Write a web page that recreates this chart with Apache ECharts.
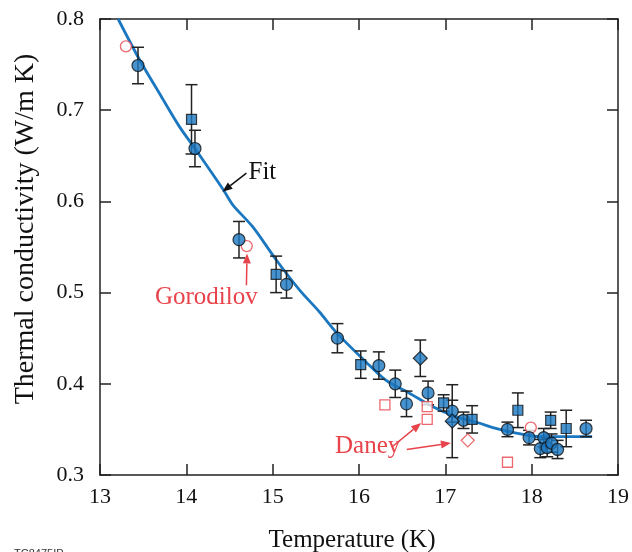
<!DOCTYPE html>
<html>
<head>
<meta charset="utf-8">
<script src="https://cdn.jsdelivr.net/npm/echarts@6/dist/echarts.min.js"></script>
<style>html,body{margin:0;padding:0;background:#fff;}#c{width:632px;height:552px;}</style>
</head>
<body>
<div id="c"></div>
<script>
// [temperature K, conductivity W/mK, error]
var circles = [
  [13.44,0.749,0.020],[14.10,0.658,0.020],[14.61,0.558,0.020],[15.16,0.509,0.015],
  [15.75,0.450,0.016],[16.23,0.420,0.015],[16.42,0.400,0.015],[16.55,0.378,0.014],
  [16.80,0.390,0.013],[17.08,0.370,0.012],[17.21,0.360,0.009],[17.72,0.350,0.008],
  [17.97,0.341,0.008],[18.10,0.329,0.010],[18.14,0.341,0.010],[18.18,0.330,0.010],
  [18.23,0.335,0.010],[18.30,0.328,0.010],[18.63,0.351,0.009]
];
var squares = [
  [14.06,0.690,0.038],[15.04,0.520,0.020],[16.02,0.421,0.015],[16.98,0.379,0.009],
  [17.31,0.361,0.015],[17.84,0.371,0.019],[18.22,0.360,0.009],[18.40,0.351,0.020]
];
var diamonds = [
  [16.71,0.428,0.020],[17.08,0.359,0.040]
];
var gorodilov = [[13.30,0.770],[14.70,0.551],[17.99,0.352]];
var daneySquares = [[16.30,0.377],[16.79,0.375],[16.79,0.361],[17.72,0.314]];
var daneyDiamonds = [[17.26,0.338]];
var fit = [
  [13.21,0.800],[13.46,0.755],[13.71,0.715],[13.92,0.682],[14.10,0.658],[14.43,0.6125],
  [14.54,0.596],[14.77,0.572],[15.04,0.536],[15.31,0.503],[15.54,0.479],[15.75,0.455],
  [16.08,0.424],[16.31,0.404],[16.58,0.390],[16.85,0.375],[17.12,0.364],[17.39,0.357],
  [17.55,0.352],[17.82,0.346],[18.09,0.342],[18.40,0.342],[18.70,0.342]
];
var xTicks = [13,14,15,16,17,18,19];
var yTicks = [0.3,0.4,0.5,0.6,0.7,0.8];
// annotations: text, [x,y] text position, arrows [[tail],[tip]]
var annFit = {text:'Fit', pos:[14.72,0.632], arrows:[[[14.696,0.631],[14.418,0.6106]]]};
var annGoro = {text:'Gorodilov', pos:[14.231,0.495], arrows:[[[14.696,0.508],[14.703,0.543]]]};
var annDaney = {text:'Daney', pos:[16.10,0.331], arrows:[[[16.384,0.331],[16.72,0.357]],[[16.553,0.328],[17.065,0.335]]]};

var BLUE = '#1a77c0', RED = '#e8434b', FONT = 'Liberation Serif';
var allErr = circles.concat(squares).concat(diamonds);

function errItem(params, api) {
  var x = api.value(0), y = api.value(1), e = api.value(2);
  var top = api.coord([x, y + e]), bot = api.coord([x, y - e]);
  var w = 6;
  var st = {stroke:'#222', lineWidth:1.5};
  return {type:'group', children:[
    {type:'line', shape:{x1:top[0],y1:top[1],x2:bot[0],y2:bot[1]}, style:st},
    {type:'line', shape:{x1:top[0]-w,y1:top[1],x2:top[0]+w,y2:top[1]}, style:st},
    {type:'line', shape:{x1:bot[0]-w,y1:bot[1],x2:bot[0]+w,y2:bot[1]}, style:st}
  ]};
}

var chart = echarts.init(document.getElementById('c'));
chart.setOption({
  animation:false,
  backgroundColor:'#fff',
  grid:{left:100, top:19, right:13, bottom:77},
  xAxis:[
    {type:'value', min:13, max:19, interval:1, position:'bottom',
     axisLine:{lineStyle:{color:'#222', width:1.5}},
     axisTick:{inside:true, length:11, lineStyle:{color:'#222', width:1.5}},
     axisLabel:{color:'#111', fontFamily:FONT, fontSize:22, margin:11,
       formatter:function(v){return xTicks.indexOf(v)>=0? String(v):'';}},
     splitLine:{show:false}},
    {type:'value', min:13, max:19, interval:1, position:'top',
     axisLine:{lineStyle:{color:'#222', width:1.5}},
     axisTick:{inside:true, length:11, lineStyle:{color:'#222', width:1.5}},
     axisLabel:{show:false}, splitLine:{show:false}}
  ],
  yAxis:[
    {type:'value', min:0.3, max:0.8, interval:0.1, position:'left',
     axisLine:{show:true, lineStyle:{color:'#222', width:1.5}},
     axisTick:{show:true, inside:true, length:11, lineStyle:{color:'#222', width:1.5}},
     axisLabel:{color:'#111', fontFamily:FONT, fontSize:22, margin:16,
       formatter:function(v){return v.toFixed(1);}},
     splitLine:{show:false}},
    {type:'value', min:0.3, max:0.8, interval:0.1, position:'right',
     axisLine:{show:true, lineStyle:{color:'#222', width:1.5}},
     axisTick:{show:true, inside:true, length:11, lineStyle:{color:'#222', width:1.5}},
     axisLabel:{show:false}, splitLine:{show:false}}
  ],
  series:[
    {type:'line', data:fit, smooth:0.3, showSymbol:false, symbol:'none', clip:true,
     lineStyle:{color:BLUE, width:2.8}, z:2},
    {type:'custom', renderItem:errItem, data:allErr, z:3, silent:true},
    {type:'scatter', data:gorodilov, symbol:'circle', symbolSize:11,
     itemStyle:{color:'#fff', borderColor:RED, borderWidth:1.3}, z:4},
    {type:'scatter', data:daneySquares, symbol:'rect', symbolSize:10,
     itemStyle:{color:'#fff', borderColor:RED, borderWidth:1.3}, z:4},
    {type:'scatter', data:daneyDiamonds, symbol:'diamond', symbolSize:[13,13],
     itemStyle:{color:'#fff', borderColor:RED, borderWidth:1.3}, z:4},
    {type:'scatter', data:circles, symbol:'circle', symbolSize:12,
     itemStyle:{color:BLUE, borderColor:'#111', borderWidth:1.2}, z:5},
    {type:'scatter', data:squares, symbol:'rect', symbolSize:10,
     itemStyle:{color:BLUE, borderColor:'#111', borderWidth:1.2}, z:5},
    {type:'scatter', data:diamonds, symbol:'diamond', symbolSize:[14,14],
     itemStyle:{color:BLUE, borderColor:'#111', borderWidth:1.2}, z:5}
  ]
});

function px(p){ return chart.convertToPixel({xAxisIndex:0, yAxisIndex:0}, p); }
function arrowEls(a, color) {
  var t = px(a[0]), h = px(a[1]);
  var ang = Math.atan2(h[1]-t[1], h[0]-t[0]);
  var L = 10, W = 4;
  var bx = h[0] - L*Math.cos(ang), by = h[1] - L*Math.sin(ang);
  var nx = -Math.sin(ang), ny = Math.cos(ang);
  return [
    {type:'line', shape:{x1:t[0],y1:t[1],x2:bx,y2:by}, style:{stroke:color, lineWidth:1.5}, z:10},
    {type:'polygon', shape:{points:[[h[0],h[1]],[bx+nx*W,by+ny*W],[bx-nx*W,by-ny*W]]}, style:{fill:color}, z:10}
  ];
}
function annEls(a, color, align) {
  var p = px(a.pos);
  var els = [{type:'text', x:p[0], y:p[1], z:10,
    style:{text:a.text, fill:color, font:'25px "Liberation Serif"', align:align, verticalAlign:'middle'}}];
  a.arrows.forEach(function(ar){ els = els.concat(arrowEls(ar, color)); });
  return els;
}
var g = [];
g = g.concat(annEls(annFit, '#111', 'left'));
g = g.concat(annEls(annGoro, RED, 'center'));
g = g.concat(annEls(annDaney, RED, 'center'));
g.push({type:'text', x:352, y:540, style:{text:'Temperature (K)', fill:'#111', font:'25px "Liberation Serif"', align:'center', verticalAlign:'middle'}});
g.push({type:'text', x:26, y:229, rotation:Math.PI/2, style:{text:'Thermal conductivity (W/m K)', fill:'#111', font:'28px "Liberation Serif"', align:'center', verticalAlign:'middle'}});
g.push({type:'text', x:14, y:548, style:{text:'TC8475IP', fill:'#333', font:'11px "Liberation Sans"', align:'left', verticalAlign:'top'}});
chart.setOption({graphic:g});
</script>
</body>
</html>
